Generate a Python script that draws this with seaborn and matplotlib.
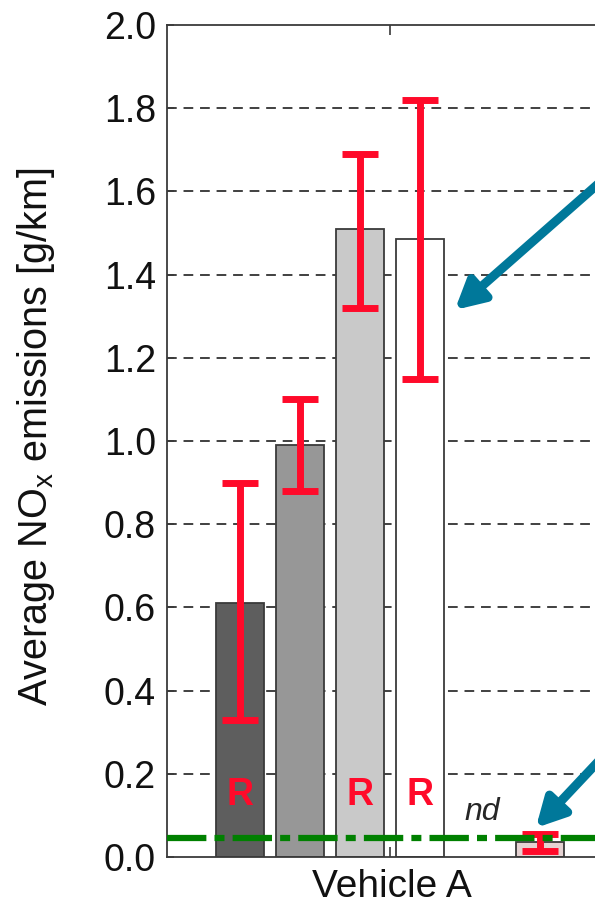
import numpy as np
import pandas as pd
import matplotlib
matplotlib.use("Agg")
from matplotlib import pyplot as plt
import seaborn as sns

# dados
categorias = ["b1", "b2", "b3", "b4", "nd", "b5"]
valores = [0.61, 0.99, 1.51, 1.485, np.nan, 0.036]
erro_inf = [0.33, 0.88, 1.32, 1.15, np.nan, 0.015]
erro_sup = [0.90, 1.10, 1.69, 1.82, np.nan, 0.055]
cores = ["#5e5e5e", "#979797", "#c9c9c9", "#ffffff", "#ffffff", "#e8cfcf"]
com_r = ["b1", "b3", "b4"]
limite = 0.046
yticks = np.round(np.arange(0, 2.01, 0.2), 1)

sns.set_style("white")
plt.rcParams["font.family"] = ["Liberation Sans", "DejaVu Sans"]
plt.rcParams["mathtext.fontset"] = "custom"
plt.rcParams["mathtext.rm"] = "Liberation Sans"

df = pd.DataFrame({"cat": categorias, "val": valores})

fig = plt.figure(figsize=(5.95, 9.07), dpi=100)
ax = fig.add_axes([167 / 595, 50 / 907, (640 - 167) / 595, 832 / 907])

sns.barplot(data=df.dropna(), x="cat", y="val", hue="cat", order=categorias,
            hue_order=categorias, palette=dict(zip(categorias, cores)),
            width=0.8, edgecolor="#3a3a3a", linewidth=1.3, legend=False, ax=ax)

pos = np.arange(len(categorias))
v = np.array(valores)
lo = v - np.array(erro_inf)
hi = np.array(erro_sup) - v
ax.errorbar(pos, v, yerr=[lo, hi], fmt="none", ecolor="#ff0a2a",
            elinewidth=5, capsize=13, capthick=5, zorder=5)

for c in com_r:
    i = categorias.index(c)
    ax.text(i, 0.148, "R", color="#ff0a2a", fontsize=27, fontweight="bold",
            ha="center", va="center", zorder=6)
ax.text(4.03, 0.108, "nd", fontsize=23, style="italic", ha="center", va="center")

ax.axhline(limite, color="#008000", lw=4.5, linestyle=(0, (6.3, 1.3, 1.6, 1.3)),
           zorder=7)

for yy in yticks[1:-1]:
    ax.axhline(yy, color="#404040", lw=1.4, linestyle=(0, (5, 3.5)), zorder=0)

seta = dict(arrowstyle="-|>,head_length=1.7,head_width=0.9", color="#00789a",
            lw=6.5, shrinkA=0, shrinkB=0)
ax.annotate("", xy=(3.58, 1.315), xytext=(6.3, 1.66), arrowprops=seta,
            annotation_clip=False, zorder=8)
ax.annotate("", xy=(4.93, 0.07), xytext=(6.3, 0.28), arrowprops=seta,
            annotation_clip=False, zorder=8)

ax.set_xlim(-1.217, (640 - 240) / 60)
ax.set_ylim(0, 2.0)
ax.set_yticks(yticks)
ax.set_yticklabels([f"{t:.1f}" for t in yticks], fontsize=27, color="#111111")
ax.set_xticks([2.5])
ax.set_xticklabels([""])
ax.tick_params(axis="x", direction="in", top=True, bottom=True, length=7,
               width=1.2, color="#3a3a3a")
ax.tick_params(axis="y", direction="in", left=True, length=5, width=1.2,
               color="#3a3a3a", pad=8)
ax.set_xlabel("")
ax.set_ylabel("Average NO$_\\mathregular{x}$ emissions [g/km]", fontsize=28.5,
              color="#111111")
ax.yaxis.set_label_coords(-0.232, 0.505)
ax.text(2.53, -0.03, "Vehicle A", fontsize=28, ha="center", va="top",
        color="#111111")

for s in ax.spines.values():
    s.set_color("#3a3a3a")
    s.set_linewidth(1.3)

plt.savefig("out.png", dpi=100)
